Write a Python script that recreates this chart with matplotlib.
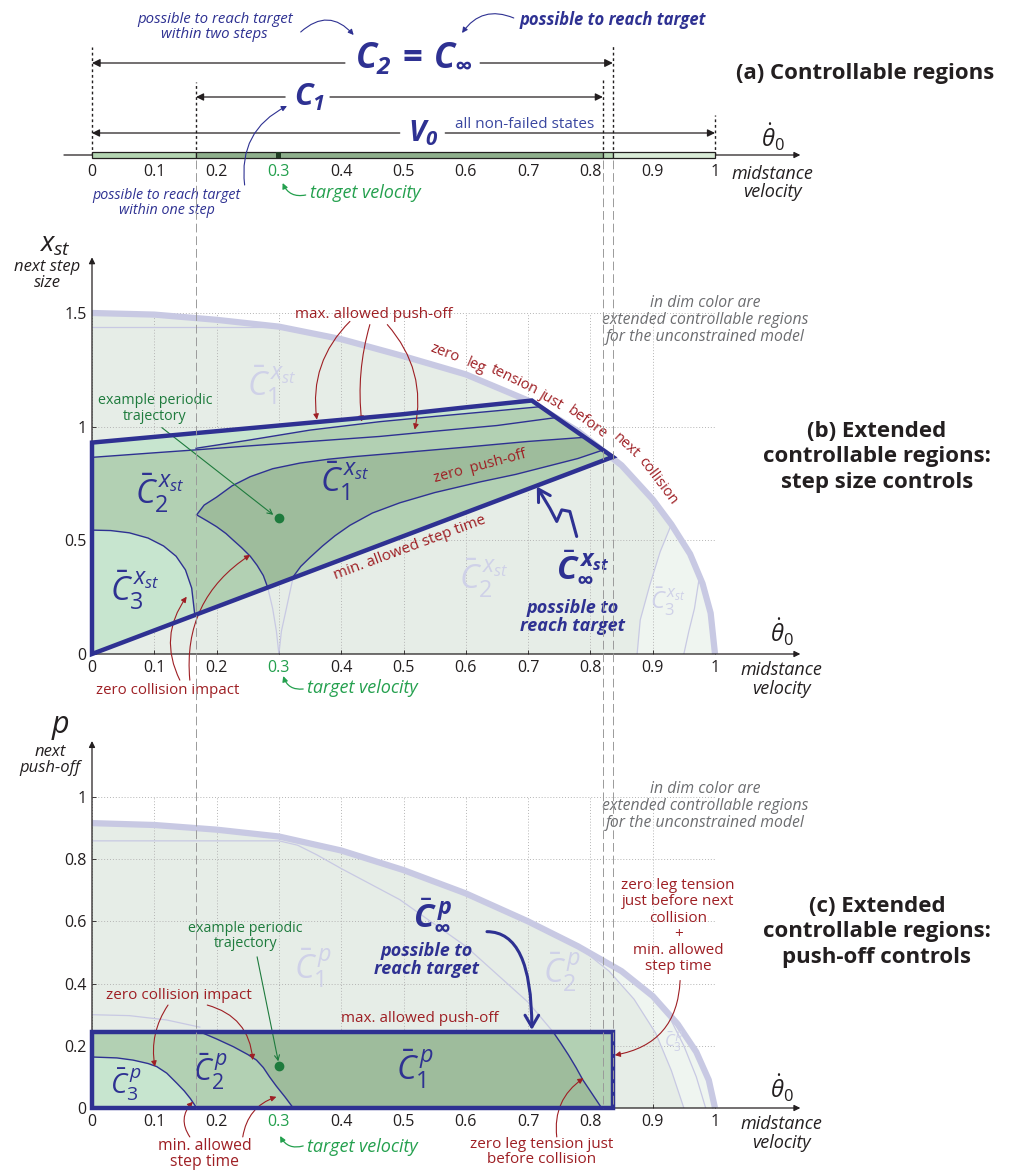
import numpy as np
import matplotlib.pyplot as plt
from matplotlib.patches import Polygon, Rectangle, FancyArrowPatch
from matplotlib.lines import Line2D
from matplotlib.path import Path
import matplotlib.transforms as mtransforms

plt.rcParams['font.family'] = ['Open Sans', 'DejaVu Sans']
plt.rcParams['mathtext.fontset'] = 'custom'
plt.rcParams['mathtext.rm'] = 'Open Sans'
plt.rcParams['mathtext.it'] = 'Open Sans:italic'
plt.rcParams['mathtext.bf'] = 'Open Sans:bold'
plt.rcParams['mathtext.bfit'] = 'Open Sans:italic:bold'
plt.rcParams['mathtext.sf'] = 'Open Sans'
plt.rcParams['mathtext.fallback'] = 'stixsans'

NAVY = '#2e3192'
RED = '#9e1f24'
GREEN = '#24a04e'
DGREEN = '#1e7b3d'
DIM = '#c8c9e3'
DIMTXT = '#cfd1e8'
DIMFILL = '#e6ede7'
DIMFILL2 = '#eff5f0'
LIGHT = '#c7e5cf'
MED = '#b2d0b3'
DARK = '#9ebc9c'
INK = '#231f20'
GRAY = '#6d6e71'

# ---------------- data ----------------
xticks = [0, 0.1, 0.2, 0.3, 0.4, 0.5, 0.6, 0.7, 0.8, 0.9, 1.0]
xticklabels = ['0', '0.1', '0.2', '0.3', '0.4', '0.5', '0.6', '0.7', '0.8', '0.9', '1']
target = 0.3

# (a) controllable regions on the velocity line
c1_range = (0.167, 0.82)
c2_range = (0.0, 0.836)
v0_range = (0.0, 1.0)
seg_edges = [0.0, 0.167, 0.82, 0.836, 1.0]
seg_colors = ['#b4d5b2', '#8eaf8c', '#b4d5b2', '#d9ebd7']
bounds = [0.167, 0.82, 0.836]

# (b) step size controls
outer_b_x = [0, 0.1, 0.2, 0.3, 0.4, 0.5, 0.6, 0.7, 0.78, 0.85, 0.9, 0.93, 0.96, 0.98, 0.993, 1.0]
outer_b_y = [1.5, 1.493, 1.47, 1.44, 1.385, 1.31, 1.23, 1.115, 0.98, 0.83, 0.68, 0.57, 0.44,
             0.31, 0.18, 0.0]
top_b_x = [0, 0.1, 0.2, 0.3, 0.4, 0.5, 0.6, 0.706]
top_b_y = [0.93, 0.955, 0.98, 1.005, 1.03, 1.055, 1.085, 1.115]
corner_b = (0.836, 0.867)
L2_x = [0, 0.1, 0.167, 0.25, 0.35, 0.462, 0.55, 0.65, 0.745]
L2_y = [0.865, 0.885, 0.898, 0.915, 0.935, 0.957, 0.98, 1.005, 1.04]
L3_x = [0.167, 0.25, 0.35, 0.462, 0.55, 0.65, 0.72]
L3_y = [0.905, 0.94, 0.985, 1.022, 1.045, 1.07, 1.088]
L1_x = [0.168, 0.18, 0.2, 0.225, 0.254, 0.29, 0.334, 0.38, 0.42, 0.494, 0.6, 0.7, 0.79]
L1_y = [0.612, 0.655, 0.69, 0.74, 0.78, 0.815, 0.84, 0.857, 0.868, 0.885, 0.91, 0.935, 0.953]
zp_x = [0.323, 0.335, 0.35, 0.37, 0.39, 0.414, 0.45, 0.494, 0.55, 0.623, 0.68, 0.73, 0.78, 0.82]
zp_y = [0.34, 0.385, 0.425, 0.475, 0.52, 0.566, 0.62, 0.665, 0.71, 0.757, 0.79, 0.825, 0.86,
        0.897]
cusp_x = [0.168, 0.185, 0.2, 0.215, 0.227, 0.24, 0.254, 0.265, 0.275, 0.282]
cusp_y = [0.612, 0.585, 0.56, 0.53, 0.5, 0.468, 0.43, 0.39, 0.345, 0.293]
c3b_x = [0, 0.03, 0.06, 0.09, 0.115, 0.135, 0.15, 0.16, 0.165]
c3b_y = [0.545, 0.543, 0.533, 0.51, 0.475, 0.43, 0.37, 0.29, 0.172]
dimcusp_l_x = [0.282, 0.29, 0.296, 0.3]
dimcusp_l_y = [0.293, 0.2, 0.1, 0.0]
dimcusp_r_x = [0.323, 0.312, 0.304, 0.3]
dimcusp_r_y = [0.34, 0.2, 0.1, 0.0]
dimhor_b = (1.44, 0.29)
arc1b_x = [0.875, 0.88, 0.895, 0.912, 0.93]
arc1b_y = [0.0, 0.15, 0.3, 0.45, 0.57]
arc2b_x = [0.95, 0.958, 0.967, 0.975]
arc2b_y = [0.0, 0.1, 0.2, 0.34]
traj_b = (0.3, 0.6)

# (c) push-off controls
outer_c_x = [0, 0.1, 0.2, 0.3, 0.4, 0.5, 0.6, 0.7, 0.78, 0.85, 0.9, 0.94, 0.97, 0.99, 1.0]
outer_c_y = [0.916, 0.91, 0.895, 0.873, 0.828, 0.765, 0.69, 0.6, 0.52, 0.44, 0.36, 0.27, 0.18,
             0.09, 0.0]
pmax = 0.245
c3c_x = [0, 0.04, 0.066, 0.09, 0.104, 0.12, 0.136, 0.148, 0.158, 0.168]
c3c_y = [0.164, 0.161, 0.154, 0.143, 0.133, 0.112, 0.08, 0.055, 0.03, 0.0]
c2c_x = [0.173, 0.2, 0.227, 0.25, 0.264, 0.275, 0.285, 0.296, 0.31, 0.323]
c2c_y = [0.245, 0.222, 0.197, 0.172, 0.154, 0.13, 0.1, 0.07, 0.035, 0.0]
c1c_x = [0.74, 0.752, 0.765, 0.777, 0.788, 0.803, 0.818]
c1c_y = [0.245, 0.21, 0.17, 0.13, 0.09, 0.045, 0.0]
dimc2_x = [0, 0.06, 0.12, 0.173]
dimc2_y = [0.30, 0.297, 0.283, 0.26]
dimc1_x = [0, 0.3, 0.33, 0.36, 0.4, 0.494, 0.6, 0.7, 0.74]
dimc1_y = [0.859, 0.859, 0.845, 0.815, 0.77, 0.67, 0.52, 0.34, 0.245]
arc1c_x = [0.78, 0.83, 0.87, 0.905, 0.93, 0.95]
arc1c_y = [0.52, 0.44, 0.35, 0.24, 0.12, 0.0]
arc2c_x = [0.92, 0.95, 0.97, 0.985]
arc2c_y = [0.32, 0.2, 0.1, 0.0]
traj_c = (0.3, 0.135)

# ---------------- figure ----------------
W, H = 1015, 1170
fig = plt.figure(figsize=(W / 100, H / 100), dpi=100)


def rect(l, t, r, b):
    return [l / W, 1 - b / H, (r - l) / W, (b - t) / H]


def arr(ax, p0, p1, color, rad=0.0, lw=0.9, style='-|>', ms=9, cs=None):
    ax.annotate('', xy=p1, xytext=p0, annotation_clip=False,
                arrowprops=dict(arrowstyle=style, color=color, lw=lw, shrinkA=0, shrinkB=0,
                                mutation_scale=ms,
                                connectionstyle=cs or 'arc3,rad=%s' % rad))


def cbar(sub, sup, bold=False):
    if bold:
        return r'$\bar{\mathbfit{C}}_{\mathbfit{%s}}^{\,\mathbfit{%s}}$' % (sub, sup)
    return r'$\bar{C}_{%s}^{\,%s}$' % (sub, sup)


# ======== (a) ========
ax_a = fig.add_axes(rect(92, 0, 715, 155))
ax_a.set_xlim(0, 1)
ax_a.set_ylim(0, 155)
ax_a.axis('off')

arr(ax_a, (-0.045, 0), (1.137, 0), INK, lw=0.9, ms=9)
for lo, hi, col in zip(seg_edges[:-1], seg_edges[1:], seg_colors):
    ax_a.add_patch(Rectangle((lo, -3), hi - lo, 6, facecolor=col, edgecolor=INK, lw=0.9,
                             zorder=3, clip_on=False))
ax_a.add_patch(Rectangle((target - 0.004, -3), 0.008, 6, facecolor='#1f3a22', lw=0,
                         zorder=4, clip_on=False))

for x, top in zip([c2_range[0], c1_range[0], c1_range[1], c2_range[1], v0_range[1]],
                  [108, 73, 75, 110, 40]):
    ax_a.plot([x, x], [0, top], ls=(0, (2, 2)), color=INK, lw=1.0, clip_on=False)

# range arrows
arr(ax_a, (0.406, 92), (c2_range[0], 92), INK, ms=12)
arr(ax_a, (0.623, 92), (c2_range[1], 92), INK, ms=12)
arr(ax_a, (0.31, 58), (c1_range[0], 58), INK, ms=11)
arr(ax_a, (0.382, 58), (c1_range[1], 58), INK, ms=11)
arr(ax_a, (0.494, 22), (v0_range[0], 22), INK, ms=11)
arr(ax_a, (0.567, 22), (v0_range[1], 22), INK, ms=11)

ax_a.text(0.516, 97, r'$\mathbfit{C_2}\,\mathbf{=}\,\mathbfit{C_\infty}$', color=NAVY,
          fontsize=25, ha='center', va='center')
ax_a.text(0.35, 58, r'$\mathbfit{C_1}$', color=NAVY, fontsize=22, ha='center', va='center')
ax_a.text(0.531, 22, r'$\mathbfit{V_0}$', color=NAVY, fontsize=21, ha='center', va='center')
ax_a.text(0.583, 31, 'all non-failed states', color='#3a47a0', fontsize=11, ha='left',
          va='center')

for x, lab in zip(xticks, xticklabels):
    ax_a.text(x, -17, lab, ha='center', va='center', fontsize=11.5,
              color=GREEN if x == target else INK)
ax_a.text(1.093, 18, r'$\dot{\theta}_0$', fontsize=17, ha='center', va='center', color=INK)
ax_a.text(1.092, -28, 'midstance\nvelocity', fontsize=13, style='italic', ha='center',
          va='center', color=INK, linespacing=1.05)

ax_a.text(0.197, 128, 'possible to reach target\nwithin two steps', color=NAVY, fontsize=10.8,
          style='italic', ha='center', va='center', linespacing=1.05)
arr(ax_a, (0.335, 123), (0.42, 120), NAVY, rad=-0.5, lw=0.8, ms=8)
ax_a.text(0.687, 135, 'possible to reach target', color=NAVY, fontsize=12, style='italic',
          weight='bold', ha='left', va='center')
arr(ax_a, (0.677, 137), (0.594, 122), NAVY, rad=0.4, lw=0.8, ms=8)
ax_a.text(0.12, -48, 'possible to reach target\nwithin one step', color=NAVY, fontsize=10.3,
          style='italic', ha='center', va='center', linespacing=1.05)
arr(ax_a, (0.245, -30), (0.313, 49), NAVY, rad=-0.35, lw=0.8, ms=8)
ax_a.text(0.35, -38, 'target velocity', color=GREEN, fontsize=13, style='italic', ha='left',
          va='center')
arr(ax_a, (0.343, -40), (0.306, -28), GREEN, rad=-0.4, lw=0.9, ms=8)

fig.text(865 / W, 1 - 73 / H, '(a) Controllable regions', fontsize=16, weight='bold',
         ha='center', va='center', color=INK)


def style_axes(ax, yticks, yticklabels, ytop):
    for s in ax.spines.values():
        s.set_visible(False)
    ax.set_xticks(xticks)
    ax.set_xticklabels(xticklabels)
    ax.set_yticks(yticks)
    ax.set_yticklabels(yticklabels)
    ax.tick_params(direction='in', length=3, width=0.6, color=INK, labelsize=11.5,
                   labelcolor=INK, pad=4)
    ax.get_xticklabels()[xticks.index(target)].set_color(GREEN)
    ax.grid(True, ls=(0, (1, 2)), color='#b5b5b5', lw=0.7)
    ax.set_axisbelow(True)
    arr(ax, (0, 0), (1.137, 0), INK, lw=0.9, ms=9)
    arr(ax, (0, 0), (0, ytop), INK, lw=0.9, ms=9)


# ======== (b) ========
ax_b = fig.add_axes(rect(92, 313, 715, 654))
ax_b.set_xlim(0, 1)
ax_b.set_ylim(0, 1.5)
style_axes(ax_b, [0, 0.5, 1, 1.5], ['0', '0.5', '1', '1.5'], 1.745)

ax_b.fill([0] + outer_b_x, [0] + outer_b_y, color=DIMFILL, lw=0, zorder=0.3)
rim_b = [(x, y) for x, y in zip(outer_b_x, outer_b_y) if x > arc1b_x[-1]]
ax_b.add_patch(Polygon(list(zip(arc1b_x, arc1b_y)) + rim_b, closed=True, facecolor=DIMFILL2,
                       lw=0, zorder=0.35))
ax_b.plot(outer_b_x, outer_b_y, color=DIM, lw=4.5, zorder=2, clip_on=False,
          solid_capstyle='butt', solid_joinstyle='round')
ax_b.plot([0, dimhor_b[1]], [dimhor_b[0], dimhor_b[0]], color=DIM, lw=0.9, zorder=1.5)
for xs, ys in [(dimcusp_l_x, dimcusp_l_y), (dimcusp_r_x, dimcusp_r_y), (arc1b_x, arc1b_y),
               (arc2b_x, arc2b_y)]:
    ax_b.plot(xs, ys, color=DIM, lw=0.9, zorder=1.5)

# constrained regions
poly_inf = [(0, 0)] + list(zip(top_b_x, top_b_y)) + [corner_b]
ax_b.add_patch(Polygon(poly_inf, closed=True, facecolor=MED, lw=0, zorder=2.1))
band = list(zip(top_b_x, top_b_y)) + [(L3_x[-1], L3_y[-1])] + list(zip(L3_x[::-1], L3_y[::-1])) \
    + list(zip(L2_x[2::-1], L2_y[2::-1]))
ax_b.add_patch(Polygon(band, closed=True, facecolor=LIGHT, lw=0, zorder=2.2))
ax_b.add_patch(Polygon([(0, 0)] + list(zip(c3b_x, c3b_y)), closed=True, facecolor=LIGHT, lw=0,
                       zorder=2.2))
c1_poly = list(zip(L1_x, L1_y)) + list(zip(zp_x[::-1], zp_y[::-1])) \
    + list(zip(cusp_x[::-1], cusp_y[::-1]))
ax_b.add_patch(Polygon(c1_poly, closed=True, facecolor=DARK, lw=0, zorder=2.2))
for xs, ys in [(L1_x, L1_y), (L2_x, L2_y), (L3_x, L3_y), (zp_x, zp_y), (cusp_x, cusp_y),
               (c3b_x, c3b_y)]:
    ax_b.plot(xs, ys, color=NAVY, lw=1.0, zorder=3)
ax_b.add_patch(Polygon(poly_inf, closed=True, fill=False, edgecolor=NAVY, lw=3.2, zorder=4,
                       joinstyle='miter', clip_on=False))
ax_b.plot(*traj_b, 'o', color=DGREEN, ms=6, zorder=5)

# labels (b)
ax_b.text(-0.059, 1.80, r'$x_{st}$', fontsize=20, ha='center', va='center', color=INK,
          clip_on=False)
ax_b.text(-0.072, 1.665, 'next step\nsize', fontsize=12, style='italic', ha='center',
          va='center', color=INK, linespacing=1.0)
ax_b.text(1.108, 0.097, r'$\dot{\theta}_0$', fontsize=17, ha='center', va='center', color=INK)
ax_b.text(1.106, -0.112, 'midstance\nvelocity', fontsize=13, style='italic', ha='center',
          va='center', color=INK, linespacing=1.05)

for (x, y), s, fs, c in [((0.109, 0.705), cbar('2', 'x_{st}'), 24, NAVY),
                         ((0.069, 0.282), cbar('3', 'x_{st}'), 24, NAVY),
                         ((0.406, 0.758), cbar('1', 'x_{st}'), 24, NAVY),
                         ((0.289, 1.18), cbar('1', 'x_{st}'), 24, DIMTXT),
                         ((0.629, 0.335), cbar('2', 'x_{st}'), 24, DIMTXT),
                         ((0.925, 0.229), cbar('3', 'x_{st}'), 17, DIMTXT)]:
    ax_b.text(x, y, s, fontsize=fs, color=c, ha='center', va='center', zorder=6)
ax_b.text(0.788, 0.383, cbar(r'\infty', 'x_{st}', bold=True), fontsize=24, color=NAVY,
          ha='center', va='center', zorder=6)
ax_b.text(0.772, 0.163, 'possible to\nreach target', fontsize=13, style='italic',
          weight='bold', color=NAVY, ha='center', va='center', linespacing=1.0, zorder=6)
zig = [(0.778, 0.517), (0.767, 0.627), (0.754, 0.634), (0.746, 0.583), (0.735, 0.641),
       (0.714, 0.737)]
ax_b.add_patch(FancyArrowPatch(path=Path(zig), arrowstyle='->,head_length=0.6,head_width=0.35',
                               color=NAVY, lw=2.2, mutation_scale=14, zorder=6,
                               transform=ax_b.transData))

ax_b.text(0.453, 1.493, 'max. allowed push-off', fontsize=11, color=RED, ha='center',
          va='center', zorder=6)
arr(ax_b, (0.414, 1.463), (0.361, 1.031), RED, rad=0.25, lw=0.8, ms=8)
arr(ax_b, (0.446, 1.449), (0.433, 1.022), RED, rad=0.1, lw=0.8, ms=8)
arr(ax_b, (0.474, 1.449), (0.518, 0.987), RED, rad=-0.25, lw=0.8, ms=8)

words = ['zero', 'leg', 'tension', 'just', 'before', 'next', 'collision']
wx = [0.566, 0.616, 0.678, 0.737, 0.795, 0.857, 0.908]
wy = [1.324, 1.266, 1.205, 1.116, 1.020, 0.915, 0.762]
wrot = [-21, -23, -26, -31, -36, -43, -53]
for w, x, y, r in zip(words, wx, wy, wrot):
    ax_b.text(x, y, w, fontsize=10.5, color=RED, rotation=r, rotation_mode='anchor',
              ha='center', va='center', zorder=6)

ax_b.text(0.623, 0.824, 'zero  push-off', fontsize=10.5, color=RED, rotation=15,
          rotation_mode='anchor', ha='center', va='center', zorder=6)
ax_b.text(0.51, 0.467, 'min. allowed step time', fontsize=11, color=RED, rotation=20.5,
          rotation_mode='anchor', ha='center', va='center', zorder=6)
ax_b.text(0.101, 1.079, 'example periodic\ntrajectory', fontsize=10.3, color=DGREEN,
          ha='center', va='center', linespacing=1.05, zorder=6)
arr(ax_b, (0.112, 0.996), (0.291, 0.612), DGREEN, lw=0.8, style='->', ms=9)
ax_b.text(0.122, -0.159, 'zero collision impact', fontsize=10.8, color=RED, ha='center',
          va='center')
arr(ax_b, (0.141, -0.115), (0.152, 0.252), RED, rad=-0.3, lw=0.8, ms=8)
arr(ax_b, (0.157, -0.115), (0.254, 0.436), RED, rad=-0.3, lw=0.8, ms=8)
ax_b.text(0.345, -0.15, 'target velocity', fontsize=13, style='italic', color=GREEN,
          ha='left', va='center')
arr(ax_b, (0.339, -0.154), (0.307, -0.097), GREEN, rad=-0.4, lw=0.9, ms=8)

fig.text(877 / W, 1 - 457 / H, '(b) Extended\ncontrollable regions:\nstep size controls',
         fontsize=16, weight='bold', ha='center', va='center', color=INK, linespacing=1.3)
fig.text(705 / W, 1 - 320 / H, 'in dim color are\nextended controllable regions\nfor the unconstrained model',
         fontsize=11.3, style='italic', color=GRAY, ha='center', va='center', linespacing=1.1)

# ======== (c) ========
ax_c = fig.add_axes(rect(92, 797, 715, 1108))
ax_c.set_xlim(0, 1)
ax_c.set_ylim(0, 1)
style_axes(ax_c, [0, 0.2, 0.4, 0.6, 0.8, 1.0], ['0', '0.2', '0.4', '0.6', '0.8', '1'], 1.18)

ax_c.fill([0] + outer_c_x, [0] + outer_c_y, color=DIMFILL, lw=0, zorder=0.3)
rim_c = [(x, y) for x, y in zip(outer_c_x, outer_c_y) if x >= arc1c_x[0]]
ax_c.add_patch(Polygon(rim_c + list(zip(arc1c_x[::-1], arc1c_y[::-1])), closed=True,
                       facecolor=DIMFILL2, lw=0, zorder=0.35))
ax_c.plot(outer_c_x, outer_c_y, color=DIM, lw=4.5, zorder=2, clip_on=False,
          solid_capstyle='butt', solid_joinstyle='round')
for xs, ys in [(dimc1_x, dimc1_y), (dimc2_x, dimc2_y), (arc1c_x, arc1c_y), (arc2c_x, arc2c_y)]:
    ax_c.plot(xs, ys, color=DIM, lw=0.9, zorder=1.5)

ax_c.add_patch(Rectangle((0, 0), c2_range[1], pmax, facecolor=MED, lw=0, zorder=2.1))
ax_c.add_patch(Polygon([(0, 0)] + list(zip(c3c_x, c3c_y)), closed=True, facecolor=LIGHT, lw=0,
                       zorder=2.2))
c1c_poly = list(zip(c2c_x, c2c_y)) + list(zip(c1c_x[::-1], c1c_y[::-1]))
ax_c.add_patch(Polygon(c1c_poly, closed=True, facecolor=DARK, lw=0, zorder=2.2))
for xs, ys in [(c3c_x, c3c_y), (c2c_x, c2c_y), (c1c_x, c1c_y)]:
    ax_c.plot(xs, ys, color=NAVY, lw=1.0, zorder=3)
ax_c.add_patch(Rectangle((0, 0), c2_range[1], pmax, fill=False, edgecolor=NAVY, lw=3.2,
                         zorder=4, joinstyle='miter', clip_on=False))
ax_c.plot(*traj_c, 'o', color=DGREEN, ms=6, zorder=5)

ax_c.text(-0.051, 1.225, r'$p$', fontsize=22, ha='center', va='center', color=INK)
ax_c.text(-0.067, 1.119, 'next\npush-off', fontsize=12, style='italic', ha='center',
          va='center', color=INK, linespacing=1.0)
ax_c.text(1.108, 0.064, r'$\dot{\theta}_0$', fontsize=17, ha='center', va='center', color=INK)
ax_c.text(1.106, -0.082, 'midstance\nvelocity', fontsize=13, style='italic', ha='center',
          va='center', color=INK, linespacing=1.05)

for (x, y), s, fs, c in [((0.055, 0.074), cbar('3', 'p'), 20, NAVY),
                         ((0.19, 0.116), cbar('2', 'p'), 22, NAVY),
                         ((0.518, 0.125), cbar('1', 'p'), 24, NAVY),
                         ((0.355, 0.45), cbar('1', 'p'), 24, DIMTXT),
                         ((0.754, 0.437), cbar('2', 'p'), 24, DIMTXT),
                         ((0.934, 0.212), cbar('3', 'p'), 12, DIMTXT)]:
    ax_c.text(x, y, s, fontsize=fs, color=c, ha='center', va='center', zorder=6)
ax_c.text(0.546, 0.62, cbar(r'\infty', 'p', bold=True), fontsize=24, color=NAVY,
          ha='center', va='center', zorder=6)
ax_c.text(0.537, 0.476, 'possible to\nreach target', fontsize=13, style='italic',
          weight='bold', color=NAVY, ha='center', va='center', linespacing=1.0, zorder=6)
arr(ax_c, (0.634, 0.567), (0.706, 0.251), NAVY, lw=2.2, style='->,head_length=0.6,head_width=0.35',
    ms=14, cs='angle3,angleA=0,angleB=90')

ax_c.text(0.526, 0.289, 'max. allowed push-off', fontsize=11, color=RED, ha='center',
          va='center', zorder=6)
ax_c.text(0.14, 0.363, 'zero collision impact', fontsize=11, color=RED, ha='center',
          va='center', zorder=6)
arr(ax_c, (0.122, 0.331), (0.101, 0.133), RED, rad=0.2, lw=0.8, ms=8)
arr(ax_c, (0.185, 0.331), (0.258, 0.154), RED, rad=-0.35, lw=0.8, ms=8)
ax_c.text(0.246, 0.553, 'example periodic\ntrajectory', fontsize=10.3, color=DGREEN,
          ha='center', va='center', linespacing=1.05, zorder=6)
arr(ax_c, (0.265, 0.486), (0.299, 0.15), DGREEN, lw=0.8, style='->', ms=9)
ax_c.text(0.181, -0.148, 'min. allowed\nstep time', fontsize=11.3, color=RED, ha='center',
          va='center', linespacing=1.0)
arr(ax_c, (0.157, -0.093), (0.162, 0.02), RED, rad=-0.4, lw=0.8, ms=8)
arr(ax_c, (0.242, -0.093), (0.296, 0.036), RED, rad=-0.3, lw=0.8, ms=8)
ax_c.text(0.345, -0.125, 'target velocity', fontsize=13, style='italic', color=GREEN,
          ha='left', va='center')
arr(ax_c, (0.339, -0.122), (0.302, -0.09), GREEN, rad=-0.4, lw=0.9, ms=8)
ax_c.text(0.722, -0.142, 'zero leg tension just\nbefore collision', fontsize=11, color=RED,
          ha='center', va='center', linespacing=1.0)
arr(ax_c, (0.746, -0.093), (0.789, 0.096), RED, rad=-0.3, lw=0.8, ms=8)
ax_c.text(0.941, 0.585, 'zero leg tension\njust before next\ncollision\n+\nmin. allowed\nstep time',
          fontsize=11, color=RED, ha='center', va='center', linespacing=1.1, zorder=6)
arr(ax_c, (0.944, 0.41), (0.839, 0.17), RED, rad=-0.4, lw=0.8, ms=8)

fig.text(877 / W, 1 - 932 / H, '(c) Extended\ncontrollable regions:\npush-off controls',
         fontsize=16, weight='bold', ha='center', va='center', color=INK, linespacing=1.3)
fig.text(705 / W, 1 - 806 / H, 'in dim color are\nextended controllable regions\nfor the unconstrained model',
         fontsize=11.3, style='italic', color=GRAY, ha='center', va='center', linespacing=1.1)

# long dashed guides through all panels
blend = mtransforms.blended_transform_factory(ax_b.transData, fig.transFigure)
for x in bounds:
    fig.add_artist(Line2D([x, x], [1 - 160 / H, 1 - 1108 / H], transform=blend,
                          ls=(0, (9, 4)), color='#9a9a9a', lw=0.7, zorder=5))

fig.savefig('out.png', dpi=100)
